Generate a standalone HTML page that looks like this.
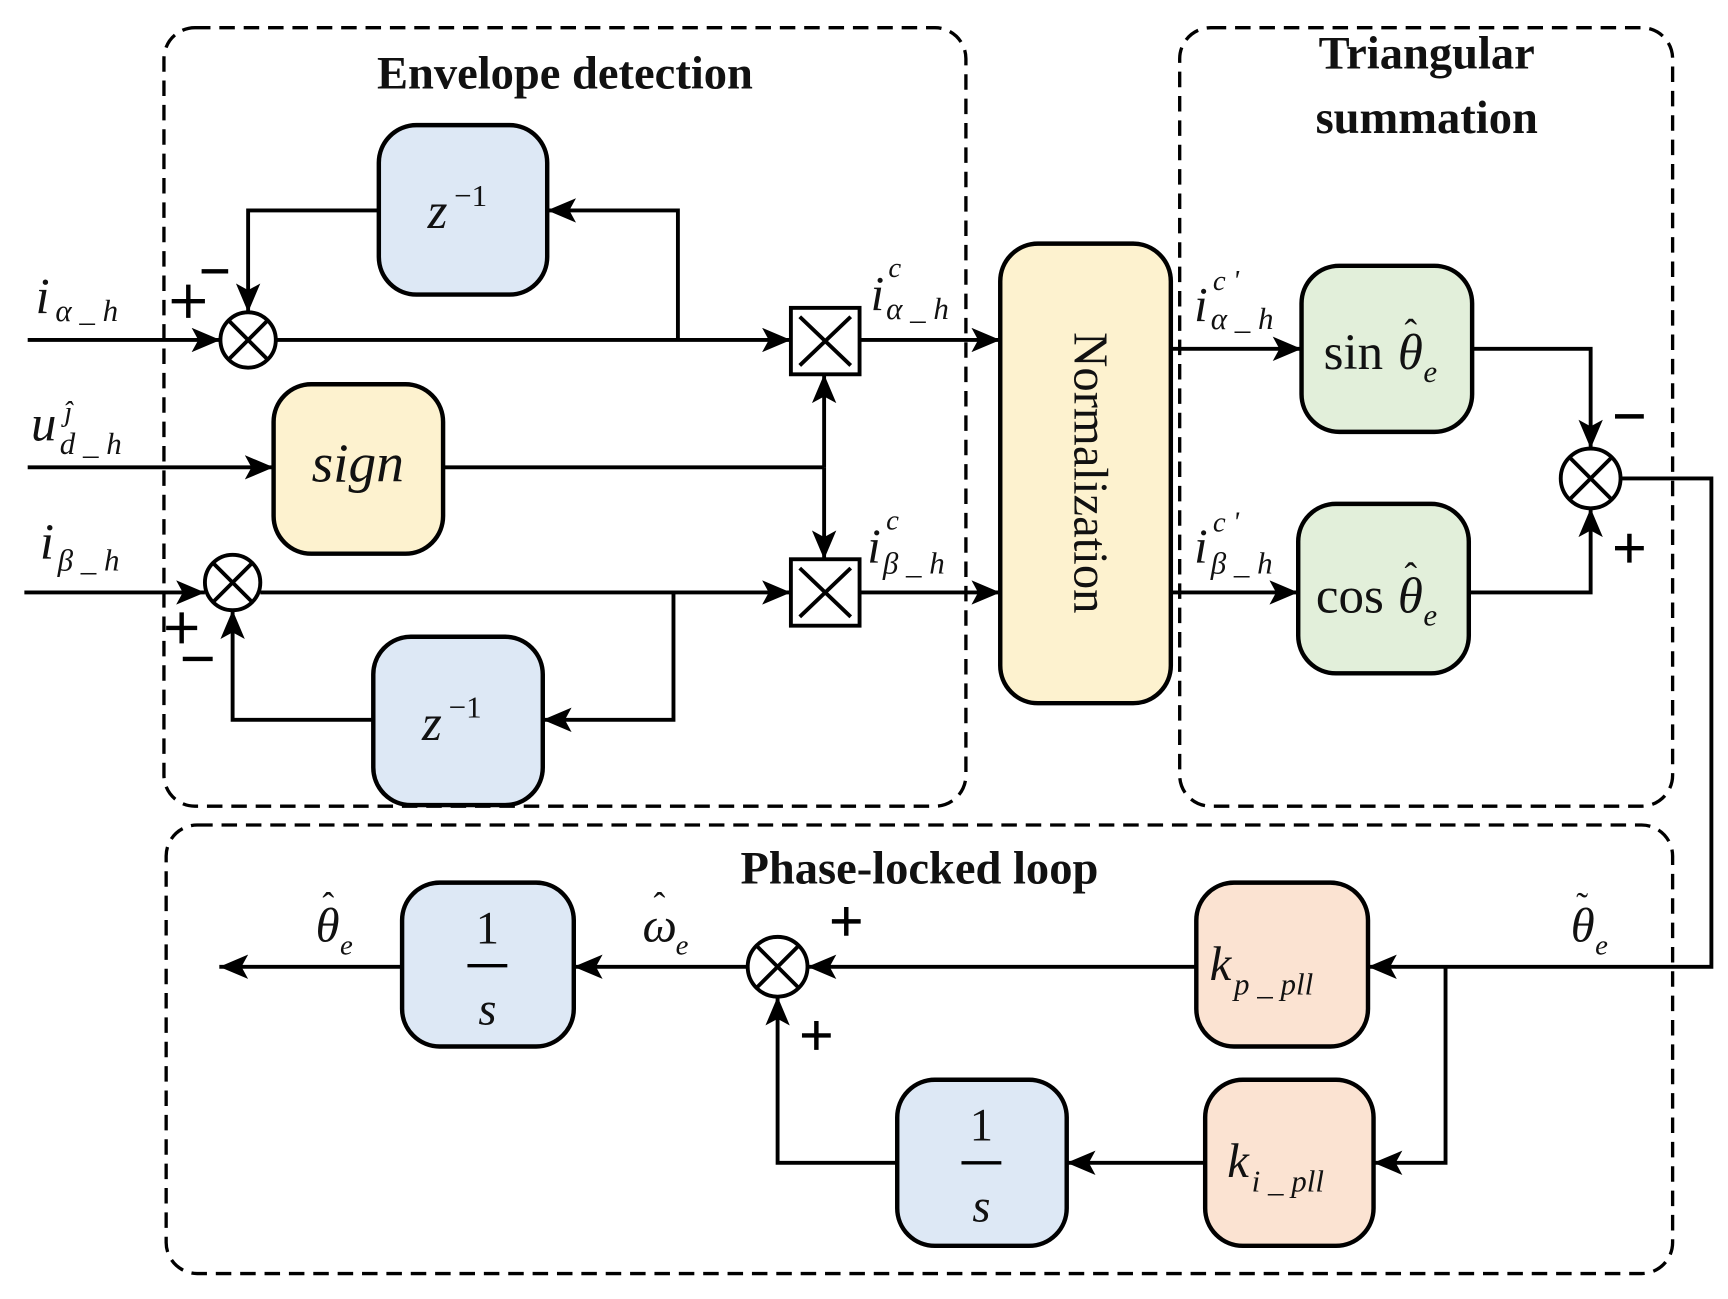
<!DOCTYPE html>
<html><head><meta charset="utf-8"><style>
html,body{margin:0;padding:0;background:#fff;}
svg{display:block;}
text{font-family:"Liberation Serif",serif;fill:#111;}
.it{font-style:italic;}
.t{font-weight:bold;font-size:42px;}
</style></head><body>
<svg width="1728" height="1299" viewBox="0 0 1560 1173" preserveAspectRatio="none" xmlns="http://www.w3.org/2000/svg">
<style>
.ln{stroke:#000;stroke-width:3.5;fill:none;}
.ar{marker-end:url(#ar);}
</style>
<defs>
<marker id="ar" markerWidth="26" markerHeight="22" refX="26" refY="11" orient="auto" markerUnits="userSpaceOnUse"><path d="M0,0 L26,11 L0,22 L6,11 z" fill="#000"/></marker>
</defs>
<g fill="none" stroke="#000" stroke-width="3" stroke-dasharray="14,8">
<rect x="148" y="25" width="724" height="703" rx="28"/>
<rect x="1065" y="25" width="445" height="703" rx="28"/>
<rect x="150" y="745" width="1360" height="405" rx="28"/>
</g>
<text class="t" x="510" y="80" text-anchor="middle">Envelope detection</text>
<text class="t" x="1288" y="62" text-anchor="middle">Triangular</text>
<text class="t" x="1288" y="120" text-anchor="middle">summation</text>
<text class="t" x="830" y="798" text-anchor="middle">Phase-locked loop</text>

<g stroke="#000" stroke-width="4">
<rect x="342" y="113" width="152" height="153" rx="34" fill="#dde8f5"/>
<rect x="337" y="575" width="153" height="152" rx="34" fill="#dde8f5"/>
<rect x="247" y="347" width="153" height="153" rx="34" fill="#fdf2cf"/>
<rect x="903" y="220" width="154" height="415" rx="34" fill="#fdf2cf"/>
<rect x="1175" y="240" width="154" height="150" rx="34" fill="#e2efda"/>
<rect x="1172" y="455" width="154" height="153" rx="34" fill="#e2efda"/>
<rect x="1080" y="797" width="155" height="148" rx="34" fill="#fbe3d2"/>
<rect x="1088" y="975" width="152" height="150" rx="34" fill="#fbe3d2"/>
<rect x="810" y="975" width="153" height="150" rx="34" fill="#dde8f5"/>
<rect x="363" y="797" width="155" height="148" rx="34" fill="#dde8f5"/>
</g>

<g class="ln">
<path class="ar" d="M25,307 H199"/>
<path class="ar" d="M25,422 H247"/>
<path class="ar" d="M22,535 H185"/>
<path class="ar" d="M249,307 H714"/>
<path class="ar" d="M612,307 V190 H494"/>
<path class="ar" d="M342,190 H224 V282"/>
<path class="ar" d="M235,535 H714"/>
<path class="ar" d="M608,535 V650 H490"/>
<path class="ar" d="M337,650 H210 V551"/>
<path d="M400,422 H744"/>
<path class="ar" d="M744,422 V338"/>
<path class="ar" d="M744,422 V505"/>
<path class="ar" d="M776,307 H903"/>
<path class="ar" d="M776,535 H903"/>
<path class="ar" d="M1057,315 H1175"/>
<path class="ar" d="M1057,535 H1172"/>
<path class="ar" d="M1329,315 H1436 V405"/>
<path class="ar" d="M1326,535 H1436 V459"/>
<path class="ar" d="M1463,432 H1545 V873 H1235"/>
<path class="ar" d="M1305,873 V1050 H1240"/>
<path class="ar" d="M1088,1050 H963"/>
<path class="ar" d="M810,1050 H702 V900"/>
<path class="ar" d="M1080,873 H729"/>
<path class="ar" d="M675,873 H518"/>
<path class="ar" d="M363,873 H198"/>
</g>

<g stroke="#000" stroke-width="3.5" fill="#fff">
<circle cx="224" cy="307" r="25"/>
<circle cx="210" cy="526" r="25"/>
<circle cx="1436" cy="432" r="27"/>
<circle cx="702" cy="873" r="27"/>
</g>
<g stroke="#000" stroke-width="3.5">
<path d="M206,289 L242,325 M242,289 L206,325"/>
<path d="M192,508 L228,544 M228,508 L192,544"/>
<path d="M1417,413 L1455,451 M1455,413 L1417,451"/>
<path d="M683,854 L721,892 M721,854 L683,892"/>
</g>
<g stroke="#000" stroke-width="3.5" fill="#fff">
<rect x="714" y="278" width="62" height="60"/>
<rect x="714" y="505" width="62" height="60"/>
</g>
<g stroke="#000" stroke-width="3.5">
<path d="M722,286 L768,330 M768,286 L722,330"/>
<path d="M722,513 L768,557 M768,513 L722,557"/>
</g>

<!-- +/- signs drawn -->
<g stroke="#000" stroke-width="4">
<path d="M155,272 H185 M170,257 V287"/>
<path d="M182,245 H206"/>
<path d="M150,567 H178 M164,553 V581"/>
<path d="M165,595 H192"/>
<path d="M1458,376 H1484"/>
<path d="M1458,495 H1484 M1471,482 V508"/>
<path d="M751,832 H777 M764,819 V845"/>
<path d="M724,935 H750 M737,922 V948"/>
</g>

<text class="it" x="386" y="206" font-size="46">z</text><text x="410" y="186" font-size="28">−1</text>
<text class="it" x="381" y="668" font-size="46">z</text><text x="405" y="648" font-size="28">−1</text>
<text class="it" x="323" y="435" font-size="50" text-anchor="middle">sign</text>
<text x="980" y="427" font-size="44" text-anchor="middle" transform="rotate(90 980 427)" dominant-baseline="middle">Normalization</text>
<text x="1195" y="333" font-size="46">sin</text><text class="it" x="1262" y="333" font-size="46">θ</text><text x="1268" y="312" font-size="34">ˆ</text><text class="it" x="1285" y="345" font-size="28">e</text>
<text x="1188" y="553" font-size="46">cos</text><text class="it" x="1262" y="553" font-size="46">θ</text><text x="1268" y="532" font-size="34">ˆ</text><text class="it" x="1285" y="565" font-size="28">e</text>
<text class="it" x="1092" y="885" font-size="44">k</text><text class="it" x="1114" y="898" font-size="28">p _ pll</text>
<text class="it" x="1108" y="1063" font-size="44">k</text><text class="it" x="1130" y="1076" font-size="28">i _ pll</text>
<g font-size="42" text-anchor="middle">
<text x="440" y="852">1</text><line x1="422" y1="872" x2="458" y2="872" stroke="#000" stroke-width="3"/><text class="it" x="440" y="925">s</text>
<text x="886" y="1030">1</text><line x1="868" y1="1050" x2="904" y2="1050" stroke="#000" stroke-width="3"/><text class="it" x="886" y="1103">s</text>
</g>

<text class="it" x="32" y="283" font-size="46">i</text><text class="it" x="50" y="290" font-size="28">α _ h</text>
<text class="it" x="28" y="398" font-size="46">u</text><text class="it" x="58" y="380" font-size="26">ĵ</text><text class="it" x="54" y="410" font-size="28">d _ h</text>
<text class="it" x="36" y="505" font-size="46">i</text><text class="it" x="52" y="515" font-size="28">β _ h</text>
<text class="it" x="786" y="280" font-size="44">i</text><text class="it" x="802" y="250" font-size="26">c</text><text class="it" x="800" y="288" font-size="28">α _ h</text>
<text class="it" x="783" y="508" font-size="44">i</text><text class="it" x="800" y="478" font-size="26">c</text><text class="it" x="797" y="518" font-size="28">β _ h</text>
<text class="it" x="1078" y="290" font-size="44">i</text><text class="it" x="1095" y="262" font-size="26">c '</text><text class="it" x="1093" y="297" font-size="28">α _ h</text>
<text class="it" x="1078" y="508" font-size="44">i</text><text class="it" x="1095" y="480" font-size="26">c '</text><text class="it" x="1093" y="518" font-size="28">β _ h</text>
<text class="it" x="285" y="850" font-size="44">θ</text><text x="291" y="828" font-size="32">ˆ</text><text class="it" x="307" y="862" font-size="26">e</text>
<text class="it" x="580" y="850" font-size="44">ω</text><text x="590" y="828" font-size="32">ˆ</text><text class="it" x="610" y="862" font-size="26">e</text>
<text class="it" x="1418" y="850" font-size="44">θ</text><text x="1423" y="828" font-size="32">˜</text><text class="it" x="1440" y="862" font-size="26">e</text>
</svg>
</body></html>
